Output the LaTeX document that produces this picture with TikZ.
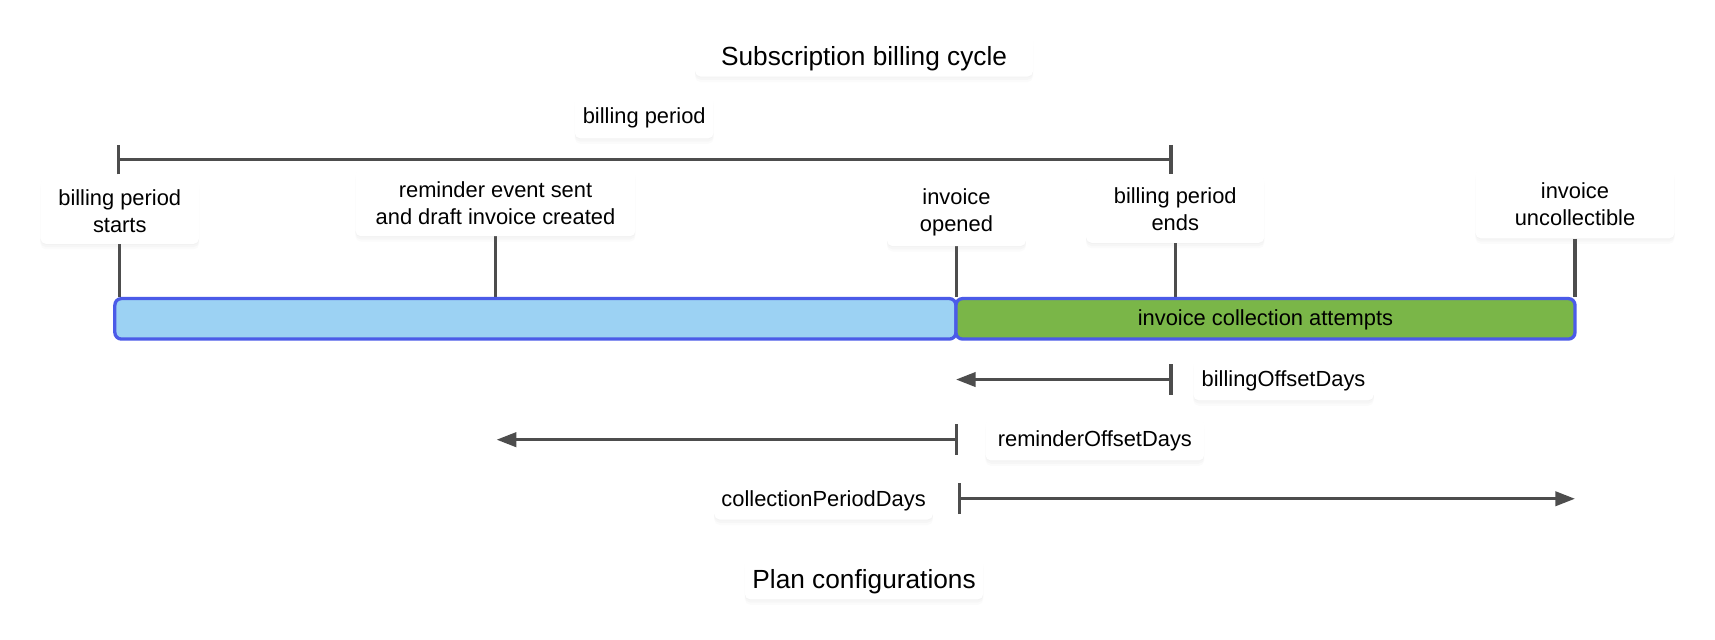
\documentclass[tikz,border=0pt]{standalone}
\usepackage{fontspec}
\setmainfont{Liberation Sans}
\usetikzlibrary{arrows.meta,shadows,backgrounds}
\definecolor{linegray}{HTML}{4D4D4D}
\definecolor{barblue}{HTML}{9CD2F3}
\definecolor{bargreen}{HTML}{7AB648}
\definecolor{barborder}{HTML}{4B5BE8}
\begin{document}
\begin{tikzpicture}[x=1pt,y=-1pt,
  lbl/.style={fill=white, rounded corners=5pt, align=center, inner sep=0pt,
    font=\fontsize{20}{25}\selectfont,
    drop shadow={opacity=0.035, shadow xshift=0pt, shadow yshift=-1pt},
    drop shadow={opacity=0.035, shadow xshift=0pt, shadow yshift=-3pt},
    drop shadow={opacity=0.035, shadow xshift=0pt, shadow yshift=-5pt}},
  one/.style={lbl, text height=17pt, text depth=4.5pt},
  ttl/.style={lbl, font=\fontsize{24}{28}\selectfont, text height=23pt, text depth=5.5pt},
  conn/.style={draw=linegray, line width=3pt},
  bar/.style={draw=barborder, line width=3pt, rounded corners=6pt, inner sep=0pt,
    font=\fontsize{20}{25}\selectfont},
  span/.style={conn, {Bar[width=27pt]}-{Bar[width=27pt]}},
  offset/.style={conn, {Bar[width=28pt]}-{Triangle[length=18pt,width=13pt]}}
]
\useasboundingbox (0,0) rectangle (1568,585);

% titles
\node[ttl, minimum width=309pt, minimum height=38pt] (title) at (790,51) {Subscription billing cycle};
\node[ttl, minimum width=218pt, minimum height=38pt] (plan) at (790,529) {Plan configurations};

% billing period span
\coordinate (bpL) at (107,146);
\coordinate (bpR) at (1072,146);
\draw[span] (bpL) -- (bpR);
\node[one, minimum width=127pt, minimum height=39pt] (bplabel) at (589,107) {billing period};

% bar
\node[bar, fill=barblue, minimum width=769pt, minimum height=37pt] (barA) at (489.5,291.5) {};
\node[bar, fill=bargreen, minimum width=566pt, minimum height=37pt, text height=16pt, text depth=4.5pt] (barB) at (1157,291.5) {invoice collection attempts};

% event labels
\node[lbl, minimum width=145pt, minimum height=60pt] (starts) at (109.5,193) {billing period\\starts};
\node[lbl, minimum width=256pt, minimum height=61pt] (reminder) at (453,185.5) {reminder event sent\\and draft invoice created};
\node[lbl, minimum width=127pt, minimum height=62pt] (opened) at (874.5,194) {invoice\\opened};
\node[lbl, minimum width=163pt, minimum height=62pt] (ends) at (1074.5,191) {billing period\\ends};
\node[lbl, minimum width=182pt, minimum height=63pt] (uncoll) at (1440,186.5) {invoice\\uncollectible};

\begin{scope}[on background layer]
  \draw[conn] (starts.south) -- (starts.south |- barA.north);
  \draw[conn] (reminder.south) -- (reminder.south |- barA.north);
  \draw[conn] (opened.south) -- (opened.south |- barA.north);
  \draw[conn] (ends.south) -- (ends.south |- barA.north);
  \draw[conn] (uncoll.south) -- (uncoll.south |- barA.north);
\end{scope}

% plan configuration offsets
\coordinate (boS) at (1072,347);
\coordinate (boE) at (874,347);
\draw[offset] (boS) -- (boE);
\node[one, minimum width=165pt, minimum height=38pt] (bolabel) at (1173.5,347) {billingOffsetDays};

\coordinate (roS) at (876,402);
\coordinate (roE) at (454,402);
\draw[offset] (roS) -- (roE);
\node[one, minimum width=200pt, minimum height=38pt] (rolabel) at (1001,402) {reminderOffsetDays};

\coordinate (cpS) at (876,456);
\coordinate (cpE) at (1440,456);
\draw[offset] (cpS) -- (cpE);
\node[one, minimum width=200pt, minimum height=37pt] (cplabel) at (753,456.5) {collectionPeriodDays};
\end{tikzpicture}
\end{document}
